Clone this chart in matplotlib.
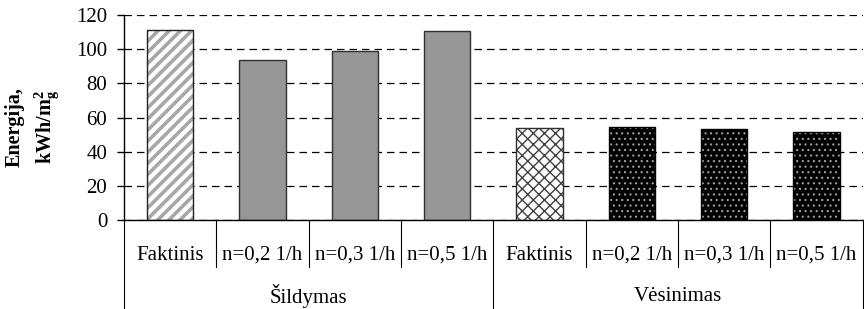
import matplotlib
matplotlib.use('Agg')
import matplotlib.pyplot as plt
import matplotlib.transforms as mtransforms

# data
groups = ['Šildymas', 'Vėsinimas']
categories = ['Faktinis', 'n=0,2 1/h', 'n=0,3 1/h', 'n=0,5 1/h']
heating = [111.3, 93.8, 99.1, 110.8]
cooling = [54.0, 54.5, 53.4, 51.7]
yticks = [0, 20, 40, 60, 80, 100, 120]

plt.rcParams['font.family'] = ['Liberation Serif', 'DejaVu Serif']
plt.rcParams['font.size'] = 15
plt.rcParams['mathtext.default'] = 'regular'

fig = plt.figure(figsize=(8.64, 3.09), dpi=100)
ax = fig.add_axes([0.1435, 0.288, 0.855, 0.663])

values = heating + cooling
labels = categories + categories
x = list(range(len(values)))
w = 0.5

# heating: actual (grey stripes), scenarios (solid grey)
with plt.rc_context({'hatch.linewidth': 2.6}):
    ax.bar(x[0], values[0], w, facecolor='white', edgecolor='#a8a8a8',
           hatch='///', linewidth=0, zorder=2)
ax.bar(x[0], values[0], w, fill=False, edgecolor='#202020', linewidth=1, zorder=3)
ax.bar(x[1:4], values[1:4], w, facecolor='#969696', edgecolor='#303030',
       linewidth=1, zorder=2)

# cooling: actual (cross-hatch), scenarios (dotted black)
with plt.rc_context({'hatch.linewidth': 1.0}):
    ax.bar(x[4], values[4], w, facecolor='white', edgecolor='#404040',
           hatch='xxx', linewidth=0, zorder=2)
ax.bar(x[4], values[4], w, fill=False, edgecolor='#303030', linewidth=1, zorder=3)
with plt.rc_context({'hatch.linewidth': 0.8}):
    ax.bar(x[5:], values[5:], w, facecolor='black', edgecolor='#a0a0a0',
           hatch='...', linewidth=0, zorder=2)
ax.bar(x[5:], values[5:], w, fill=False, edgecolor='black', linewidth=1, zorder=3)

ax.set_xlim(-0.5, 7.5)
ax.set_ylim(0, 120)
ax.set_yticks(yticks)
ax.yaxis.grid(True, linestyle=(0, (6, 4)), color='black', linewidth=0.9)
ax.set_axisbelow(True)
ax.set_xticks([])
for s in ['top', 'right']:
    ax.spines[s].set_visible(False)
ax.spines['left'].set_linewidth(1)
ax.spines['bottom'].set_linewidth(1)
ax.tick_params(axis='y', length=5, width=1, pad=7, labelsize=15)

ax.set_ylabel('Energija,\nkWh/m$^2_g$', fontweight='bold',
              fontsize=14.5, linespacing=1.4)
ax.yaxis.set_label_coords(-0.085, 0.455)

# multi-level category axis
trans = mtransforms.blended_transform_factory(ax.transData, ax.transAxes)
for i, lab in enumerate(labels):
    ax.text(i, -0.172, lab, transform=trans, ha='center', va='center', fontsize=15)
for b in [0.5, 1.5, 2.5, 4.5, 5.5, 6.5]:
    ax.plot([b, b], [0, -0.23], transform=trans, color='black', lw=0.8, clip_on=False)
for b in [-0.5, 3.5, 7.5]:
    ax.plot([b, b], [0, -0.45], transform=trans, color='black', lw=0.8, clip_on=False)
for g, name in enumerate(groups):
    ax.text(1.5 + 4 * g, -0.372, name, transform=trans, ha='center', va='center',
            fontsize=15)

fig.savefig('out.png', dpi=100)
